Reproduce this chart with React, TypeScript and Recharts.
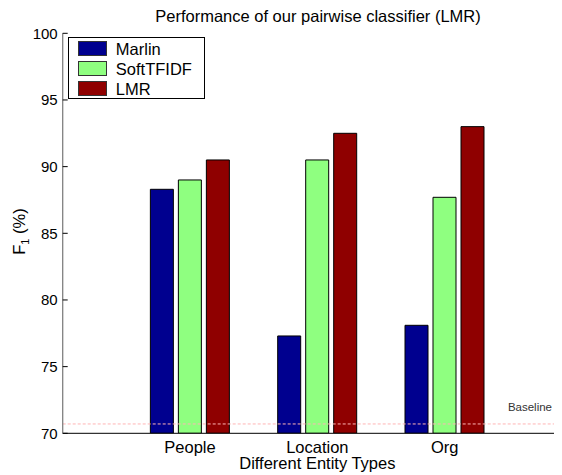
import { BarChart, Bar, XAxis, YAxis, ReferenceLine } from 'recharts';

// F1 scores (%) per entity type
const categories = ['People', 'Location', 'Org'];
const marlin = [88.3, 77.3, 78.1];
const softTfidf = [89.0, 90.5, 87.7];
const lmr = [90.5, 92.5, 93.0];
const yTicks = [70, 75, 80, 85, 90, 95, 100];
const baseline = 70.7;

const series = [
  { key: 'marlin', name: 'Marlin', color: '#00008f' },
  { key: 'softTfidf', name: 'SoftTFIDF', color: '#8fff80' },
  { key: 'lmr', name: 'LMR', color: '#8f0000' },
];

// numeric x positions 1..3 so the axis can run from 0 to 4 like the original plot
const data = categories.map((name, i) => ({
  pos: i + 1,
  name,
  marlin: marlin[i],
  softTfidf: softTfidf[i],
  lmr: lmr[i],
}));

const FONT = '"Liberation Sans", Arial, Helvetica, sans-serif';

const YTick = ({ x, y, payload }: any) => (
  <g>
    <text x={x} y={y} dy="0.36em" textAnchor="end" fontSize={15} fontFamily={FONT} fill="#000">
      {payload.value}
    </text>
    <line x1={x + 5} x2={x + 10} y1={y} y2={y} stroke="#000" />
  </g>
);

const XTick = ({ x, y, payload }: any) => (
  <text x={x} y={y + 19.4} textAnchor="middle" fontSize={16.5} fontFamily={FONT} fill="#000">
    {categories[payload.value - 1]}
  </text>
);

// legend box drawn by hand, placed over the top-left corner of the plot
const LegendBox = () => (
  <div
    style={{
      position: 'absolute',
      left: 60.3,
      top: 29.3,
      boxSizing: 'border-box',
      width: 137,
      height: 62,
      border: '1px solid #000',
      background: '#fff',
      fontFamily: FONT,
    }}
  >
    {series.map((s, i) => (
      <div key={s.key} style={{ position: 'absolute', left: 8.5, top: 2.5 + i * 20, display: 'flex', alignItems: 'center' }}>
        <div style={{ width: 29, height: 15, boxSizing: 'border-box', border: '1px solid #333', background: s.color }} />
        <span style={{ marginLeft: 9, fontSize: 16.5, lineHeight: '16px', color: '#000' }}>{s.name}</span>
      </div>
    ))}
  </div>
);

export default function App() {
  return (
    <div style={{ position: 'relative', width: 554, height: 467, overflow: 'hidden' }}>
      <BarChart
        width={600}
        height={467}
        data={data}
        margin={{ top: 25.3, right: 36, left: 0, bottom: 0 }}
        barSize={23}
        barGap={5}
      >
        <XAxis
          dataKey="pos"
          type="number"
          domain={[0, 4]}
          ticks={[1, 2, 3]}
          tick={<XTick />}
          tickSize={0}
          tickMargin={0}
          height={41.7}
          axisLine={{ stroke: '#000', strokeWidth: 1 }}
          label={{
            content: ({ viewBox }: any) => (
              <text
                x={viewBox.x + viewBox.width / 2}
                y={viewBox.y + 36}
                textAnchor="middle"
                fontSize={16.5}
                fontFamily={FONT}
                fill="#000"
              >
                Different Entity Types
              </text>
            ),
          }}
        />
        <YAxis
          type="number"
          domain={[70, 100]}
          ticks={yTicks}
          allowDataOverflow
          width={54.7}
          tickSize={0}
          tickMargin={5}
          tick={<YTick />}
          axisLine={{ stroke: '#808080', strokeWidth: 1.3 }}
          label={{
            content: () => (
              <text
                transform="translate(17, 223.5) rotate(-90)"
                textAnchor="middle"
                fontSize={16.5}
                fontFamily={FONT}
                fill="#000"
              >
                F<tspan fontSize={11} dy={4}>1</tspan>
                <tspan dy={-4}> (%)</tspan>
              </text>
            ),
          }}
        />
        {series.map((s) => (
          <Bar
            key={s.key}
            dataKey={s.key}
            name={s.name}
            fill={s.color}
            stroke="#000"
            strokeWidth={1}
            isAnimationActive={false}
          />
        ))}
        <ReferenceLine
          y={baseline}
          stroke="#ffb4b4"
          strokeDasharray="3 2"
          label={{
            content: ({ viewBox }: any) => (
              <text
                x={viewBox.x + viewBox.width - 20}
                y={viewBox.y - 13}
                textAnchor="end"
                fontSize={11.5}
                fontFamily={FONT}
                fill="#333"
              >
                Baseline
              </text>
            ),
          }}
        />
      </BarChart>
      <svg width={554} height={30} style={{ position: 'absolute', left: 0, top: 0 }}>
        <text x={310} y={13.5} textAnchor="middle" fontSize={16.5} fontFamily={FONT} fill="#000">
          Performance of our pairwise classifier (LMR)
        </text>
      </svg>
      <LegendBox />
    </div>
  );
}
